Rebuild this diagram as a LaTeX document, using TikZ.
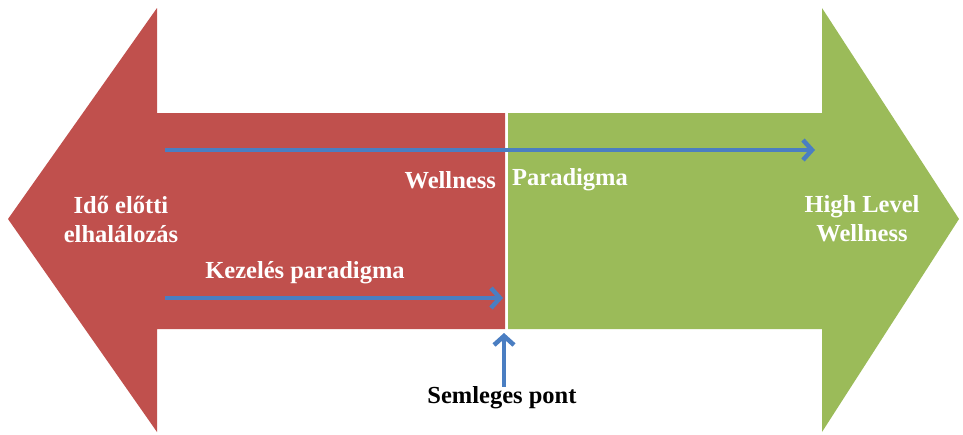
\documentclass[tikz,border=0pt]{standalone}
\usepackage{fontspec}
\setmainfont{Liberation Serif}
\usetikzlibrary{positioning,arrows.meta}
\definecolor{redarrow}{HTML}{C0504D}
\definecolor{greenarrow}{HTML}{9BBB59}
\definecolor{bluearrow}{HTML}{4A7EC2}
\begin{document}
\begin{tikzpicture}[x=1pt,y=-1pt]
\tikzstyle{every node}+=[inner sep=0pt]
\tikzstyle{whitetext}=[text=white,font=\fontsize{24.5}{29}\selectfont\bfseries,align=center]
\tikzstyle{flow}=[draw=bluearrow,line width=4.5pt,-{Straight Barb[length=9pt,width=20pt,line width=4.5pt]}]
\useasboundingbox (0,0) rectangle (963,434);
% the two big arrows
\fill [redarrow] (8,219) -- (157,8) -- (157,113) -- (505,113) -- (505,329) -- (157,329) -- (157,432) -- cycle;
\fill [greenarrow] (508,113) -- (822,113) -- (822,8) -- (959,219) -- (822,432) -- (822,329) -- (508,329) -- cycle;
% texts
\node [whitetext] (early) at (121,219) {Idő előtti\\elhalálozás};
\node [whitetext] (high) at (862,219) {High Level\\Wellness};
\node [whitetext,anchor=east] (well) at (496,180) {Wellness};
\node [whitetext,anchor=west] (para) at (512,180) {Paradigma};
\node [whitetext] (treat) at (305,273) {Kezelés paradigma};
\node [font=\fontsize{24.5}{29}\selectfont\bfseries] (neutral) at (502,398) {Semleges pont};
% blue arrows
\coordinate (wellstart) at (165,150);
\coordinate (wellend) at (815,150);
\coordinate (treatstart) at (165,298);
\coordinate (treatend) at (503,298);
\coordinate (zero) at (504,333);
\draw [flow] (wellstart) -- (wellend);
\draw [flow] (treatstart) -- (treatend);
\draw [flow] (neutral.north -| zero) -- (zero);
\end{tikzpicture}
\end{document}
